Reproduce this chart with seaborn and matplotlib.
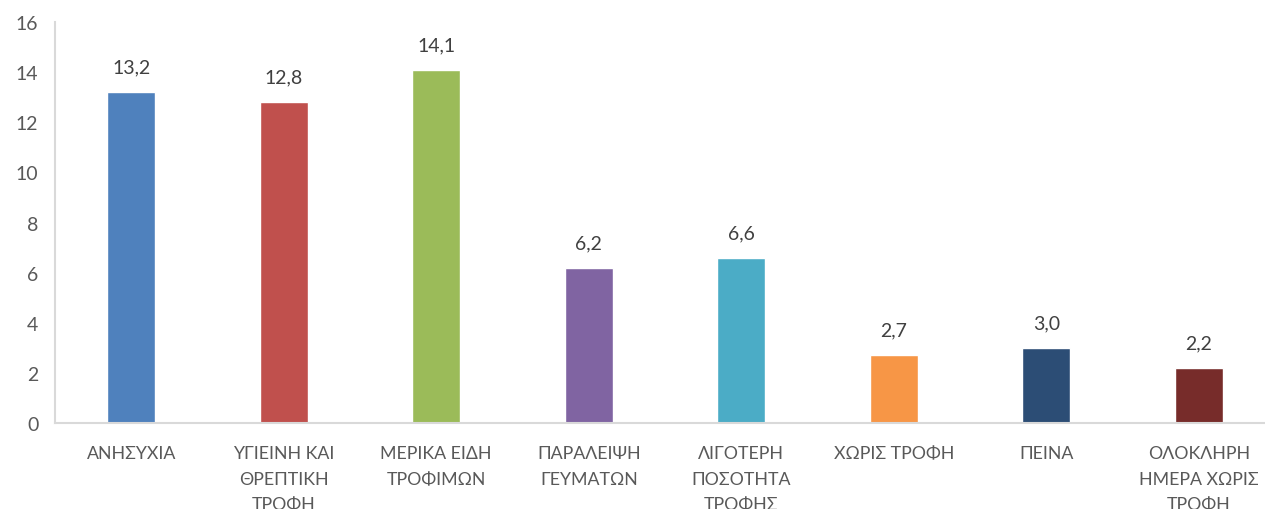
import matplotlib
matplotlib.use("Agg")
import matplotlib.pyplot as plt
import seaborn as sns
import pandas as pd

categories = ["ΑΝΗΣΥΧΙΑ", "ΥΓΙΕΙΝΗ ΚΑΙ\nΘΡΕΠΤΙΚΗ\nΤΡΟΦΗ", "ΜΕΡΙΚΑ ΕΙΔΗ\nΤΡΟΦΙΜΩΝ",
              "ΠΑΡΑΛΕΙΨΗ\nΓΕΥΜΑΤΩΝ", "ΛΙΓΟΤΕΡΗ\nΠΟΣΟΤΗΤΑ\nΤΡΟΦΗΣ", "ΧΩΡΙΣ ΤΡΟΦΗ",
              "ΠΕΙΝΑ", "ΟΛΟΚΛΗΡΗ\nΗΜΕΡΑ ΧΩΡΙΣ\nΤΡΟΦΗ"]
values = [13.2, 12.8, 14.1, 6.2, 6.6, 2.7, 3.0, 2.2]
colors = ["#4F81BD", "#C0504D", "#9BBB59", "#8064A2", "#4BACC6", "#F79646", "#2C4D75", "#772C2A"]
yticks = [0, 2, 4, 6, 8, 10, 12, 14, 16]

sns.set_style("white")
plt.rcParams['font.family'] = ['Lato', 'DejaVu Sans']

df = pd.DataFrame({"cat": categories, "val": values})

fig = plt.figure(figsize=(12.65, 5.10), dpi=100)
ax = fig.add_axes([55 / 1265, 1 - 424 / 510, 1220 / 1265, (424 - 23) / 510])

sns.barplot(data=df, x="cat", y="val", hue="cat", palette=colors, width=0.315,
            legend=False, ax=ax, saturation=1)

ax.set_xlim(-0.5, 7.5)
ax.set_ylim(0, 16)
ax.set_yticks(yticks)
ax.set_yticklabels([str(t) for t in yticks])
ax.set_xlabel("")
ax.set_ylabel("")

for sp in ["top", "right"]:
    ax.spines[sp].set_visible(False)
for sp in ["left", "bottom"]:
    ax.spines[sp].set_color("#D9D9D9")
    ax.spines[sp].set_linewidth(1.5)

ax.tick_params(axis="y", length=0, pad=12, labelsize=14, labelcolor="#595959")
ax.tick_params(axis="x", length=0, pad=16, labelsize=12.8, labelcolor="#595959")
for lbl in ax.get_xticklabels():
    lbl.set_linespacing(1.75)
    lbl.set_verticalalignment("top")

for i, v in enumerate(values):
    ax.annotate(f"{v:.1f}".replace(".", ","), xy=(i, v), xytext=(0, 12),
                textcoords="offset points", ha="center", va="bottom",
                fontsize=14, color="#404040")

fig.savefig("out.png", dpi=100)
